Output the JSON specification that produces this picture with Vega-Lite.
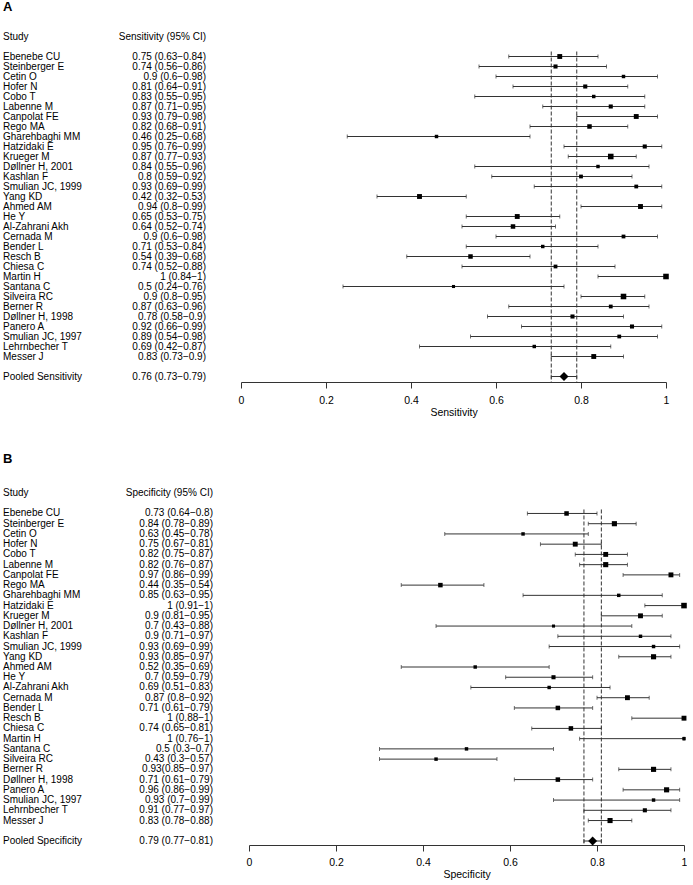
{
  "$schema": "https://vega.github.io/schema/vega-lite/v6.json",
  "padding": {"left": 3, "top": 1, "right": 0, "bottom": 0},
  "spacing": 34,
  "config": {
    "font": "Liberation Sans",
    "view": {"stroke": null},
    "text": {"fontSize": 10, "color": "#000"},
    "axis": {"grid": false}
  },
  "datasets": {
    "sens": [
      {"study": "Study", "ci": "Sensitivity (95% CI)", "kind": "header"},
      {"study": "Ebenebe CU", "est": 0.75, "lo": 0.63, "hi": 0.84, "w": 20, "ci": "0.75 (0.63−0.84)", "kind": "study"},
      {"study": "Steinberger E", "est": 0.74, "lo": 0.56, "hi": 0.86, "w": 14, "ci": "0.74 (0.56−0.86)", "kind": "study"},
      {"study": "Cetin O", "est": 0.9, "lo": 0.6, "hi": 0.98, "w": 10, "ci": "0.9 (0.6−0.98)", "kind": "study"},
      {"study": "Hofer N", "est": 0.81, "lo": 0.64, "hi": 0.91, "w": 14, "ci": "0.81 (0.64−0.91)", "kind": "study"},
      {"study": "Cobo T", "est": 0.83, "lo": 0.55, "hi": 0.95, "w": 10, "ci": "0.83 (0.55−0.95)", "kind": "study"},
      {"study": "Labenne M", "est": 0.87, "lo": 0.71, "hi": 0.95, "w": 14, "ci": "0.87 (0.71−0.95)", "kind": "study"},
      {"study": "Canpolat FE", "est": 0.93, "lo": 0.79, "hi": 0.98, "w": 20, "ci": "0.93 (0.79−0.98)", "kind": "study"},
      {"study": "Rego MA", "est": 0.82, "lo": 0.68, "hi": 0.91, "w": 17, "ci": "0.82 (0.68−0.91)", "kind": "study"},
      {"study": "Gharehbaghi MM", "est": 0.46, "lo": 0.25, "hi": 0.68, "w": 10, "ci": "0.46 (0.25−0.68)", "kind": "study"},
      {"study": "Hatzidaki E", "est": 0.95, "lo": 0.76, "hi": 0.99, "w": 14, "ci": "0.95 (0.76−0.99)", "kind": "study"},
      {"study": "Krueger M", "est": 0.87, "lo": 0.77, "hi": 0.93, "w": 26, "ci": "0.87 (0.77−0.93)", "kind": "study"},
      {"study": "Døllner H, 2001", "est": 0.84, "lo": 0.55, "hi": 0.96, "w": 10, "ci": "0.84 (0.55−0.96)", "kind": "study"},
      {"study": "Kashlan F", "est": 0.8, "lo": 0.59, "hi": 0.92, "w": 12, "ci": "0.8 (0.59−0.92)", "kind": "study"},
      {"study": "Smulian JC, 1999", "est": 0.93, "lo": 0.69, "hi": 0.99, "w": 12, "ci": "0.93 (0.69−0.99)", "kind": "study"},
      {"study": "Yang KD", "est": 0.42, "lo": 0.32, "hi": 0.53, "w": 20, "ci": "0.42 (0.32−0.53)", "kind": "study"},
      {"study": "Ahmed AM", "est": 0.94, "lo": 0.8, "hi": 0.99, "w": 20, "ci": "0.94 (0.8−0.99)", "kind": "study"},
      {"study": "He Y", "est": 0.65, "lo": 0.53, "hi": 0.75, "w": 20, "ci": "0.65 (0.53−0.75)", "kind": "study"},
      {"study": "Al-Zahrani Akh", "est": 0.64, "lo": 0.52, "hi": 0.74, "w": 17, "ci": "0.64 (0.52−0.74)", "kind": "study"},
      {"study": "Cernada M", "est": 0.9, "lo": 0.6, "hi": 0.98, "w": 12, "ci": "0.9 (0.6−0.98)", "kind": "study"},
      {"study": "Bender L", "est": 0.71, "lo": 0.53, "hi": 0.84, "w": 10, "ci": "0.71 (0.53−0.84)", "kind": "study"},
      {"study": "Resch B", "est": 0.54, "lo": 0.39, "hi": 0.68, "w": 17, "ci": "0.54 (0.39−0.68)", "kind": "study"},
      {"study": "Chiesa C", "est": 0.74, "lo": 0.52, "hi": 0.88, "w": 12, "ci": "0.74 (0.52−0.88)", "kind": "study"},
      {"study": "Martin H", "est": 1, "lo": 0.84, "hi": 1, "w": 26, "ci": "1 (0.84−1)", "kind": "study"},
      {"study": "Santana C", "est": 0.5, "lo": 0.24, "hi": 0.76, "w": 8, "ci": "0.5 (0.24−0.76)", "kind": "study"},
      {"study": "Silveira RC", "est": 0.9, "lo": 0.8, "hi": 0.95, "w": 26, "ci": "0.9 (0.8−0.95)", "kind": "study"},
      {"study": "Berner R", "est": 0.87, "lo": 0.63, "hi": 0.96, "w": 12, "ci": "0.87 (0.63−0.96)", "kind": "study"},
      {"study": "Døllner H, 1998", "est": 0.78, "lo": 0.58, "hi": 0.9, "w": 14, "ci": "0.78 (0.58−0.9)", "kind": "study"},
      {"study": "Panero A", "est": 0.92, "lo": 0.66, "hi": 0.99, "w": 14, "ci": "0.92 (0.66−0.99)", "kind": "study"},
      {"study": "Smulian JC, 1997", "est": 0.89, "lo": 0.54, "hi": 0.98, "w": 12, "ci": "0.89 (0.54−0.98)", "kind": "study"},
      {"study": "Lehrnbecher T", "est": 0.69, "lo": 0.42, "hi": 0.87, "w": 10, "ci": "0.69 (0.42−0.87)", "kind": "study"},
      {"study": "Messer J", "est": 0.83, "lo": 0.73, "hi": 0.9, "w": 20, "ci": "0.83 (0.73−0.9)", "kind": "study"},
      {"study": "Pooled Sensitivity", "est": 0.76, "lo": 0.73, "hi": 0.79, "ci": "0.76 (0.73−0.79)", "kind": "pooled"}
    ],
    "spec": [
      {"study": "Study", "ci": "Specificity (95% CI)", "kind": "header"},
      {"study": "Ebenebe CU", "est": 0.73, "lo": 0.64, "hi": 0.8, "w": 17, "ci": "0.73 (0.64−0.8)", "kind": "study"},
      {"study": "Steinberger E", "est": 0.84, "lo": 0.78, "hi": 0.89, "w": 22, "ci": "0.84 (0.78−0.89)", "kind": "study"},
      {"study": "Cetin O", "est": 0.63, "lo": 0.45, "hi": 0.78, "w": 10, "ci": "0.63 (0.45−0.78)", "kind": "study"},
      {"study": "Hofer N", "est": 0.75, "lo": 0.67, "hi": 0.81, "w": 20, "ci": "0.75 (0.67−0.81)", "kind": "study"},
      {"study": "Cobo T", "est": 0.82, "lo": 0.75, "hi": 0.87, "w": 20, "ci": "0.82 (0.75−0.87)", "kind": "study"},
      {"study": "Labenne M", "est": 0.82, "lo": 0.76, "hi": 0.87, "w": 22, "ci": "0.82 (0.76−0.87)", "kind": "study"},
      {"study": "Canpolat FE", "est": 0.97, "lo": 0.86, "hi": 0.99, "w": 20, "ci": "0.97 (0.86−0.99)", "kind": "study"},
      {"study": "Rego MA", "est": 0.44, "lo": 0.35, "hi": 0.54, "w": 17, "ci": "0.44 (0.35−0.54)", "kind": "study"},
      {"study": "Gharehbaghi MM", "est": 0.85, "lo": 0.63, "hi": 0.95, "w": 10, "ci": "0.85 (0.63−0.95)", "kind": "study"},
      {"study": "Hatzidaki E", "est": 1, "lo": 0.91, "hi": 1, "w": 26, "ci": "1 (0.91−1)", "kind": "study"},
      {"study": "Krueger M", "est": 0.9, "lo": 0.81, "hi": 0.95, "w": 20, "ci": "0.9 (0.81−0.95)", "kind": "study"},
      {"study": "Døllner H, 2001", "est": 0.7, "lo": 0.43, "hi": 0.88, "w": 8, "ci": "0.7 (0.43−0.88)", "kind": "study"},
      {"study": "Kashlan F", "est": 0.9, "lo": 0.71, "hi": 0.97, "w": 10, "ci": "0.9 (0.71−0.97)", "kind": "study"},
      {"study": "Smulian JC, 1999", "est": 0.93, "lo": 0.69, "hi": 0.99, "w": 10, "ci": "0.93 (0.69−0.99)", "kind": "study"},
      {"study": "Yang KD", "est": 0.93, "lo": 0.85, "hi": 0.97, "w": 22, "ci": "0.93 (0.85−0.97)", "kind": "study"},
      {"study": "Ahmed AM", "est": 0.52, "lo": 0.35, "hi": 0.69, "w": 10, "ci": "0.52 (0.35−0.69)", "kind": "study"},
      {"study": "He Y", "est": 0.7, "lo": 0.59, "hi": 0.79, "w": 14, "ci": "0.7 (0.59−0.79)", "kind": "study"},
      {"study": "Al-Zahrani Akh", "est": 0.69, "lo": 0.51, "hi": 0.83, "w": 10, "ci": "0.69 (0.51−0.83)", "kind": "study"},
      {"study": "Cernada M", "est": 0.87, "lo": 0.8, "hi": 0.92, "w": 20, "ci": "0.87 (0.8−0.92)", "kind": "study"},
      {"study": "Bender L", "est": 0.71, "lo": 0.61, "hi": 0.79, "w": 17, "ci": "0.71 (0.61−0.79)", "kind": "study"},
      {"study": "Resch B", "est": 1, "lo": 0.88, "hi": 1, "w": 20, "ci": "1 (0.88−1)", "kind": "study"},
      {"study": "Chiesa C", "est": 0.74, "lo": 0.65, "hi": 0.81, "w": 17, "ci": "0.74 (0.65−0.81)", "kind": "study"},
      {"study": "Martin H", "est": 1, "lo": 0.76, "hi": 1, "w": 10, "ci": "1 (0.76−1)", "kind": "study"},
      {"study": "Santana C", "est": 0.5, "lo": 0.3, "hi": 0.7, "w": 10, "ci": "0.5 (0.3−0.7)", "kind": "study"},
      {"study": "Silveira RC", "est": 0.43, "lo": 0.3, "hi": 0.57, "w": 10, "ci": "0.43 (0.3−0.57)", "kind": "study"},
      {"study": "Berner R", "est": 0.93, "lo": 0.85, "hi": 0.97, "w": 22, "ci": "0.93(0.85−0.97)", "kind": "study"},
      {"study": "Døllner H, 1998", "est": 0.71, "lo": 0.61, "hi": 0.79, "w": 17, "ci": "0.71 (0.61−0.79)", "kind": "study"},
      {"study": "Panero A", "est": 0.96, "lo": 0.86, "hi": 0.99, "w": 22, "ci": "0.96 (0.86−0.99)", "kind": "study"},
      {"study": "Smulian JC, 1997", "est": 0.93, "lo": 0.7, "hi": 0.99, "w": 10, "ci": "0.93 (0.7−0.99)", "kind": "study"},
      {"study": "Lehrnbecher T", "est": 0.91, "lo": 0.77, "hi": 0.97, "w": 14, "ci": "0.91 (0.77−0.97)", "kind": "study"},
      {"study": "Messer J", "est": 0.83, "lo": 0.78, "hi": 0.88, "w": 22, "ci": "0.83 (0.78−0.88)", "kind": "study"},
      {"study": "Pooled Specificity", "est": 0.79, "lo": 0.77, "hi": 0.81, "ci": "0.79 (0.77−0.81)", "kind": "pooled"}
    ]
  },
  "vconcat": [
    {
      "title": {"text": "A", "anchor": "start", "frame": "group", "fontSize": 13, "fontWeight": "bold", "offset": 17, "color": "#000"},
      "bounds": "flush",
      "spacing": 35,
      "hconcat": [
        {
          "width": 203,
          "height": 351,
          "data": {"name": "sens"},
          "encoding": {
            "y": {"field": "study", "type": "nominal", "axis": null,
              "scale": {"type": "point", "padding": 0.55, "domain": ["Study", " ", "Ebenebe CU", "Steinberger E", "Cetin O", "Hofer N", "Cobo T", "Labenne M", "Canpolat FE", "Rego MA", "Gharehbaghi MM", "Hatzidaki E", "Krueger M", "Døllner H, 2001", "Kashlan F", "Smulian JC, 1999", "Yang KD", "Ahmed AM", "He Y", "Al-Zahrani Akh", "Cernada M", "Bender L", "Resch B", "Chiesa C", "Martin H", "Santana C", "Silveira RC", "Berner R", "Døllner H, 1998", "Panero A", "Smulian JC, 1997", "Lehrnbecher T", "Messer J", "  ", "Pooled Sensitivity"]}}
          },
          "layer": [
            {"mark": {"type": "text", "align": "left", "baseline": "middle"},
             "encoding": {"x": {"datum": 0, "type": "quantitative", "scale": {"domain": [0, 1]}, "axis": null}, "text": {"field": "study"}}},
            {"mark": {"type": "text", "align": "right", "baseline": "middle"},
             "encoding": {"x": {"datum": 1, "type": "quantitative", "scale": {"domain": [0, 1]}, "axis": null}, "text": {"field": "ci"}}}
          ]
        },
        {
          "width": 425,
          "height": 351,
          "data": {"name": "sens"},
          "transform": [{"filter": "datum.kind != 'header'"}],
          "encoding": {
            "y": {"field": "study", "type": "nominal", "axis": null,
              "scale": {"type": "point", "padding": 0.55, "domain": ["Study", " ", "Ebenebe CU", "Steinberger E", "Cetin O", "Hofer N", "Cobo T", "Labenne M", "Canpolat FE", "Rego MA", "Gharehbaghi MM", "Hatzidaki E", "Krueger M", "Døllner H, 2001", "Kashlan F", "Smulian JC, 1999", "Yang KD", "Ahmed AM", "He Y", "Al-Zahrani Akh", "Cernada M", "Bender L", "Resch B", "Chiesa C", "Martin H", "Santana C", "Silveira RC", "Berner R", "Døllner H, 1998", "Panero A", "Smulian JC, 1997", "Lehrnbecher T", "Messer J", "  ", "Pooled Sensitivity"]}}
          },
          "layer": [
            {
              "transform": [{"filter": "datum.kind == 'pooled'"}, {"fold": ["lo", "hi"], "as": ["bound", "xv"]}],
              "mark": {"type": "rule", "strokeDash": [4, 2], "color": "#333", "strokeWidth": 1, "yOffset": -5},
              "encoding": {
                "x": {"field": "xv", "type": "quantitative", "title": "Sensitivity"},
                "y": {"datum": "Ebenebe CU", "type": "nominal"},
                "y2": {"value": "height"}
              }
            },
            {
              "mark": {"type": "rule", "color": "#333", "strokeWidth": 1},
              "encoding": {
                "x": {"field": "lo", "type": "quantitative", "title": "Sensitivity",
                  "scale": {"domain": [0, 1], "nice": false, "zero": false},
                  "axis": {"values": [0, 0.2, 0.4, 0.6, 0.8, 1], "format": "~g", "labelFlush": false, "domainColor": "#333", "tickColor": "#333", "tickSize": 6, "labelFontSize": 10.5, "labelColor": "#000", "labelPadding": 7, "titleFontSize": 10.5, "titleFontWeight": "normal", "titleColor": "#000", "titlePadding": 2}},
                "x2": {"field": "hi"}
              }
            },
            {
              "mark": {"type": "tick", "thickness": 1, "size": 4, "color": "#333"},
              "encoding": {"x": {"field": "lo", "type": "quantitative", "title": "Sensitivity"}}
            },
            {
              "mark": {"type": "tick", "thickness": 1, "size": 4, "color": "#333"},
              "encoding": {"x": {"field": "hi", "type": "quantitative", "title": "Sensitivity"}}
            },
            {
              "transform": [{"filter": "datum.kind == 'study'"}],
              "mark": {"type": "point", "shape": "square", "filled": true, "color": "#000", "opacity": 1},
              "encoding": {
                "x": {"field": "est", "type": "quantitative", "title": "Sensitivity"},
                "size": {"field": "w", "type": "quantitative", "legend": null, "scale": {"type": "linear", "domain": [0, 26], "range": [0, 31]}}
              }
            },
            {
              "transform": [{"filter": "datum.kind == 'pooled'"}],
              "mark": {"type": "point", "shape": "diamond", "filled": true, "color": "#000", "opacity": 1, "size": 80},
              "encoding": {"x": {"field": "est", "type": "quantitative", "title": "Sensitivity"}}
            }
          ]
        }
      ]
    },
    {
      "title": {"text": "B", "anchor": "start", "frame": "group", "fontSize": 13, "fontWeight": "bold", "offset": 22, "color": "#000"},
      "bounds": "flush",
      "spacing": 36,
      "hconcat": [
        {
          "width": 210,
          "height": 356,
          "data": {"name": "spec"},
          "encoding": {
            "y": {"field": "study", "type": "nominal", "axis": null,
              "scale": {"type": "point", "padding": 0.39, "domain": ["Study", " ", "Ebenebe CU", "Steinberger E", "Cetin O", "Hofer N", "Cobo T", "Labenne M", "Canpolat FE", "Rego MA", "Gharehbaghi MM", "Hatzidaki E", "Krueger M", "Døllner H, 2001", "Kashlan F", "Smulian JC, 1999", "Yang KD", "Ahmed AM", "He Y", "Al-Zahrani Akh", "Cernada M", "Bender L", "Resch B", "Chiesa C", "Martin H", "Santana C", "Silveira RC", "Berner R", "Døllner H, 1998", "Panero A", "Smulian JC, 1997", "Lehrnbecher T", "Messer J", "  ", "Pooled Specificity"]}}
          },
          "layer": [
            {"mark": {"type": "text", "align": "left", "baseline": "middle"},
             "encoding": {"x": {"datum": 0, "type": "quantitative", "scale": {"domain": [0, 1]}, "axis": null}, "text": {"field": "study"}}},
            {"mark": {"type": "text", "align": "right", "baseline": "middle"},
             "encoding": {"x": {"datum": 1, "type": "quantitative", "scale": {"domain": [0, 1]}, "axis": null}, "text": {"field": "ci"}}}
          ]
        },
        {
          "width": 435,
          "height": 356,
          "data": {"name": "spec"},
          "transform": [{"filter": "datum.kind != 'header'"}],
          "encoding": {
            "y": {"field": "study", "type": "nominal", "axis": null,
              "scale": {"type": "point", "padding": 0.39, "domain": ["Study", " ", "Ebenebe CU", "Steinberger E", "Cetin O", "Hofer N", "Cobo T", "Labenne M", "Canpolat FE", "Rego MA", "Gharehbaghi MM", "Hatzidaki E", "Krueger M", "Døllner H, 2001", "Kashlan F", "Smulian JC, 1999", "Yang KD", "Ahmed AM", "He Y", "Al-Zahrani Akh", "Cernada M", "Bender L", "Resch B", "Chiesa C", "Martin H", "Santana C", "Silveira RC", "Berner R", "Døllner H, 1998", "Panero A", "Smulian JC, 1997", "Lehrnbecher T", "Messer J", "  ", "Pooled Specificity"]}}
          },
          "layer": [
            {
              "transform": [{"filter": "datum.kind == 'pooled'"}, {"fold": ["lo", "hi"], "as": ["bound", "xv"]}],
              "mark": {"type": "rule", "strokeDash": [4, 2], "color": "#333", "strokeWidth": 1, "yOffset": -4},
              "encoding": {
                "x": {"field": "xv", "type": "quantitative", "title": "Specificity"},
                "y": {"datum": "Ebenebe CU", "type": "nominal"},
                "y2": {"value": "height"}
              }
            },
            {
              "mark": {"type": "rule", "color": "#333", "strokeWidth": 1},
              "encoding": {
                "x": {"field": "lo", "type": "quantitative", "title": "Specificity",
                  "scale": {"domain": [0, 1], "nice": false, "zero": false},
                  "axis": {"values": [0, 0.2, 0.4, 0.6, 0.8, 1], "format": "~g", "labelFlush": false, "domainColor": "#333", "tickColor": "#333", "tickSize": 6, "labelFontSize": 10.5, "labelColor": "#000", "labelPadding": 6, "titleFontSize": 10.5, "titleFontWeight": "normal", "titleColor": "#000", "titlePadding": 2}},
                "x2": {"field": "hi"}
              }
            },
            {
              "mark": {"type": "tick", "thickness": 1, "size": 4, "color": "#333"},
              "encoding": {"x": {"field": "lo", "type": "quantitative", "title": "Specificity"}}
            },
            {
              "mark": {"type": "tick", "thickness": 1, "size": 4, "color": "#333"},
              "encoding": {"x": {"field": "hi", "type": "quantitative", "title": "Specificity"}}
            },
            {
              "transform": [{"filter": "datum.kind == 'study'"}],
              "mark": {"type": "point", "shape": "square", "filled": true, "color": "#000", "opacity": 1},
              "encoding": {
                "x": {"field": "est", "type": "quantitative", "title": "Specificity"},
                "size": {"field": "w", "type": "quantitative", "legend": null, "scale": {"type": "linear", "domain": [0, 26], "range": [0, 31]}}
              }
            },
            {
              "transform": [{"filter": "datum.kind == 'pooled'"}],
              "mark": {"type": "point", "shape": "diamond", "filled": true, "color": "#000", "opacity": 1, "size": 80},
              "encoding": {"x": {"field": "est", "type": "quantitative", "title": "Specificity"}}
            }
          ]
        }
      ]
    }
  ]
}
